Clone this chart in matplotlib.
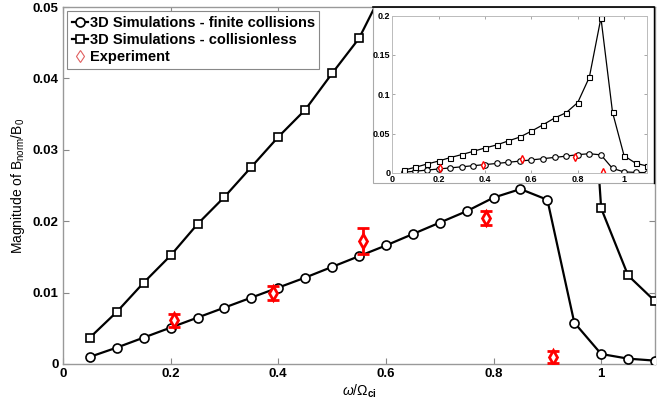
import matplotlib
matplotlib.use("Agg")
import matplotlib.pyplot as plt
from matplotlib.patches import Rectangle
import numpy as np

plt.rcParams['font.family'] = ['Liberation Sans', 'DejaVu Sans']
plt.rcParams['mathtext.fontset'] = 'custom'
plt.rcParams['mathtext.rm'] = 'Liberation Sans'
plt.rcParams['mathtext.it'] = 'Liberation Sans:italic'
plt.rcParams['mathtext.bf'] = 'Liberation Sans:bold'

# ---- data ----
freq = [0.05, 0.10, 0.15, 0.20, 0.25, 0.30, 0.35, 0.40, 0.45, 0.50, 0.55,
        0.60, 0.65, 0.70, 0.75, 0.80, 0.85, 0.90, 0.95, 1.00, 1.05, 1.10]
finite_coll = [0.0010, 0.0023, 0.0037, 0.0051, 0.0065, 0.0079, 0.0093, 0.0107,
               0.0121, 0.0136, 0.0151, 0.0166, 0.0182, 0.0198, 0.0214, 0.0233,
               0.0245, 0.0230, 0.0058, 0.0014, 0.00075, 0.00047]
collisionless = [0.0037, 0.0073, 0.0114, 0.0152, 0.0196, 0.0234, 0.0276, 0.0318,
                 0.0356, 0.0407, 0.0456, 0.0531, 0.0612, 0.0698, 0.0766, 0.0895,
                 0.1216, 0.1970, 0.0771, 0.0218, 0.0124, 0.0088]
exp_freq = [0.207, 0.390, 0.558, 0.786, 0.911]
exp_val = [0.0061, 0.0099, 0.0172, 0.0204, 0.0010]
exp_err = [0.0009, 0.0010, 0.0018, 0.0010, 0.0008]

xticks = [0, 0.2, 0.4, 0.6, 0.8, 1]
xticklabels = ['0', '0.2', '0.4', '0.6', '0.8', '1']
yticks = [0, 0.01, 0.02, 0.03, 0.04, 0.05]
yticklabels = ['0', '0.01', '0.02', '0.03', '0.04', '0.05']
in_yticks = [0, 0.05, 0.1, 0.15, 0.2]
in_yticklabels = ['0', '0.05', '0.1', '0.15', '0.2']

W, H = 657, 407
fig = plt.figure(figsize=(W / 100, H / 100), dpi=100)

def frac(x0, y0, x1, y1):
    return [x0 / W, 1 - y1 / H, (x1 - x0) / W, (y1 - y0) / H]

ax = fig.add_axes(frac(63, 7, 655, 364))
ax.plot(freq, finite_coll, '-o', color='black', lw=1.6, ms=6.5,
        mfc='white', mec='black', mew=1.2, zorder=3,
        label='3D Simulations - finite collisions')
ax.plot(freq, collisionless, '-s', color='black', lw=1.6, ms=6,
        mfc='white', mec='black', mew=1.2, zorder=3,
        label='3D Simulations - collisionless')
ax.errorbar(exp_freq, exp_val, yerr=exp_err, fmt='d', color='red',
            ms=7, mfc='white', mec='red', mew=2, ecolor='red', elinewidth=2,
            capsize=4, capthick=2, zorder=4)
# legend proxy for experiment (thin marker)
ax.plot([], [], 'd', ms=6, mfc='white', mec='#e06060', mew=0.8, label='Experiment')

ax.set_xlim(0, 1.1)
ax.set_ylim(0, 0.05)
ax.set_xticks(xticks)
ax.set_xticklabels(xticklabels)
ax.set_yticks(yticks)
ax.set_yticklabels(yticklabels)
ax.tick_params(direction='in', length=4, width=0.8, color='#888888',
               top=True, right=True, labelsize=9.5, pad=3)
for lab in ax.get_xticklabels() + ax.get_yticklabels():
    lab.set_fontweight('bold')
for s in ax.spines.values():
    s.set_color('#999999')
    s.set_linewidth(1.0)
ax.set_xlabel(r'$\omega/\Omega_{\mathbf{ci}}$', fontsize=10, labelpad=2)
ax.set_ylabel(r'Magnitude of B$_{\mathrm{norm}}$/B$_0$', fontsize=10, labelpad=4)

leg = ax.legend(loc='upper left', bbox_to_anchor=(0.0, 1.0),
                prop={'weight': 'bold', 'size': 10.5}, handlelength=1.1,
                handletextpad=0.15, borderpad=0.3, labelspacing=0.22,
                fancybox=False, framealpha=1, borderaxespad=0.3)
leg.get_frame().set_edgecolor('#888888')
leg.get_frame().set_linewidth(0.8)

# ---- inset ----
fx0, fy0, fx1, fy1 = 372.7, 7.3, 654, 183.3
rect = Rectangle((fx0 / W, 1 - fy1 / H), (fx1 - fx0) / W, (fy1 - fy0) / H,
                 transform=fig.transFigure, facecolor='white',
                 edgecolor='#aaaaaa', lw=0.8, zorder=5)
fig.add_artist(rect)
fig.add_artist(plt.Line2D([fx0 / W, fx1 / W], [1 - fy0 / H, 1 - fy0 / H],
                          transform=fig.transFigure, color='black', lw=1.2, zorder=6))
fig.add_artist(plt.Line2D([fx1 / W, fx1 / W], [1 - fy0 / H, 1 - fy1 / H],
                          transform=fig.transFigure, color='black', lw=1.0, zorder=6))

ins = fig.add_axes(frac(392.3, 15.5, 647.3, 173))
ins.set_zorder(10)
ins.plot(freq, finite_coll, '-o', color='black', lw=0.9, ms=4,
         mfc='white', mec='black', mew=0.8)
ins.plot(freq, collisionless, '-s', color='black', lw=0.9, ms=3.6,
         mfc='white', mec='black', mew=0.8)
ins.plot(exp_freq, exp_val, 'd', ms=4.2, mfc='white', mec='red', mew=1.0)
ins.set_xlim(0, 1.1)
ins.set_ylim(0, 0.2)
ins.set_xticks(xticks)
ins.set_xticklabels(xticklabels)
ins.set_yticks(in_yticks)
ins.set_yticklabels(in_yticklabels)
ins.tick_params(direction='in', length=2.5, width=0.6, color='#999999',
                top=True, right=True, labelsize=6.5, pad=1.5)
for lab in ins.get_xticklabels() + ins.get_yticklabels():
    lab.set_fontweight('bold')
for s in ins.spines.values():
    s.set_color('#bbbbbb')
    s.set_linewidth(0.7)

fig.savefig('out.png', dpi=100)
